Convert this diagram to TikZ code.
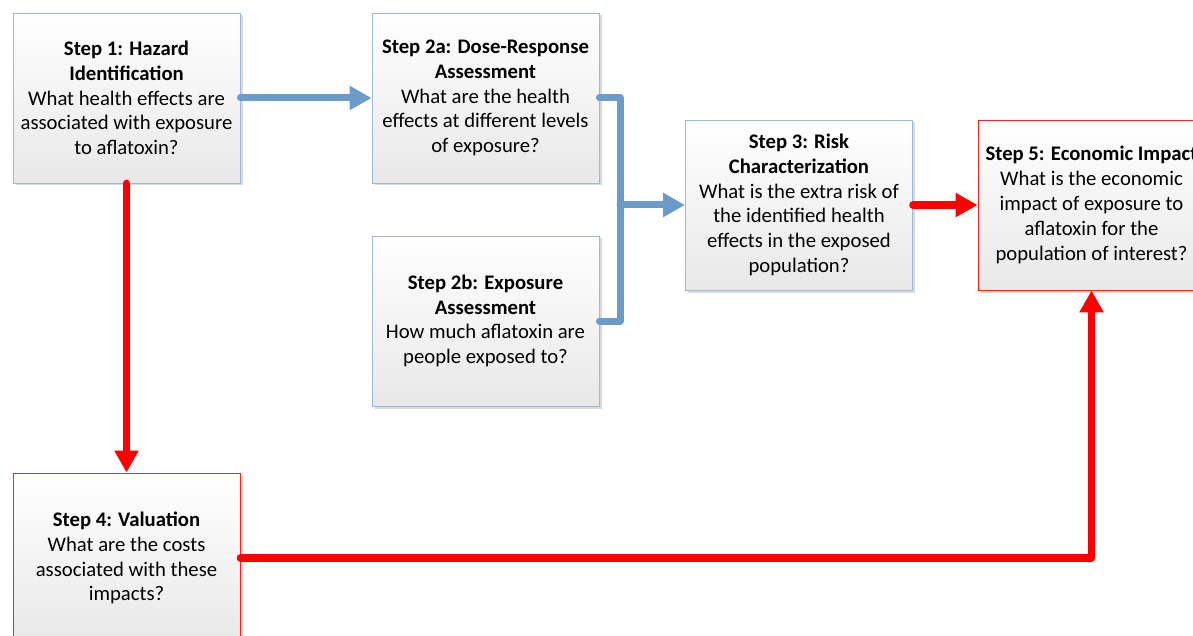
\documentclass[tikz,border=0pt]{standalone}
\usepackage{fontspec}
\setmainfont{Carlito}
\usetikzlibrary{arrows.meta,shadows}
\definecolor{boxblue}{HTML}{9DB9DA}
\definecolor{arrblue}{HTML}{6A9BCA}
\definecolor{boxred}{HTML}{FF2020}
\definecolor{arrred}{HTML}{FF0000}
\tikzset{
  stepbox/.style={draw=boxblue, line width=0.9pt, minimum width=227pt, minimum height=170pt,
    align=center, inner sep=0pt, top color=white, bottom color=black!9,
    drop shadow={shadow xshift=2.5pt, shadow yshift=-2.5pt, opacity=0.25, fill=black!60},
    font=\fontsize{20.7}{24.8}\selectfont},
  redbox/.style={stepbox, draw=boxred},
  bluearrow/.style={draw=arrblue, line width=7pt, line cap=round, line join=round},
  redarrow/.style={draw=arrred, line width=7.5pt, line cap=round, line join=round},
  bluetip/.style={-{Triangle[length=22pt,width=23pt]}},
  redtip/.style={-{Triangle[length=22pt,width=23pt]}},
}
\begin{document}
\begin{tikzpicture}[x=1pt,y=-1pt]
\useasboundingbox (0,0) rectangle (1193,636);
\clip (0,0) rectangle (1193,636);
\node[stepbox] (s1) at (126.5,98) {\textbf{Step 1: Hazard}\\\textbf{Identification}\\What health effects are\\associated with exposure\\to aflatoxin?};
\node[stepbox] (s2a) at (485.5,98) {\textbf{Step 2a: Dose-Response}\\\textbf{Assessment}\\What are the health\\effects at different levels\\of exposure?};
\node[stepbox] (s2b) at (485.5,321) {\textbf{Step 2b: Exposure}\\\textbf{Assessment}\\How much aflatoxin are\\people exposed to?};
\node[stepbox] (s3) at (799,205) {\textbf{Step 3: Risk}\\\textbf{Characterization}\\What is the extra risk of\\the identified health\\effects in the exposed\\population?};
\node[redbox] (s5) at (1091.5,205) {\textbf{Step 5: Economic Impact}\\What is the economic\\impact of exposure to\\aflatoxin for the\\population of interest?};
\node[redbox] (s4) at (126.5,558) {\textbf{Step 4: Valuation}\\What are the costs\\associated with these\\impacts?};
\coordinate (j) at (620,205);
% blue connectors
\draw[bluearrow,bluetip] (s1.east) -- (s2a.west);
\draw[bluearrow] (s2a.east) -- (s2a.east -| j) -- (s2b.east -| j) -- (s2b.east);
\draw[bluearrow,bluetip] (j) -- (s3.west);
% red connectors
\draw[redarrow,redtip] (s1.south) -- (s4.north);
\draw[redarrow,redtip] (s3.east) -- (s5.west);
\draw[redarrow,redtip] (s4.east) -| (s5.south);
\end{tikzpicture}
\end{document}
